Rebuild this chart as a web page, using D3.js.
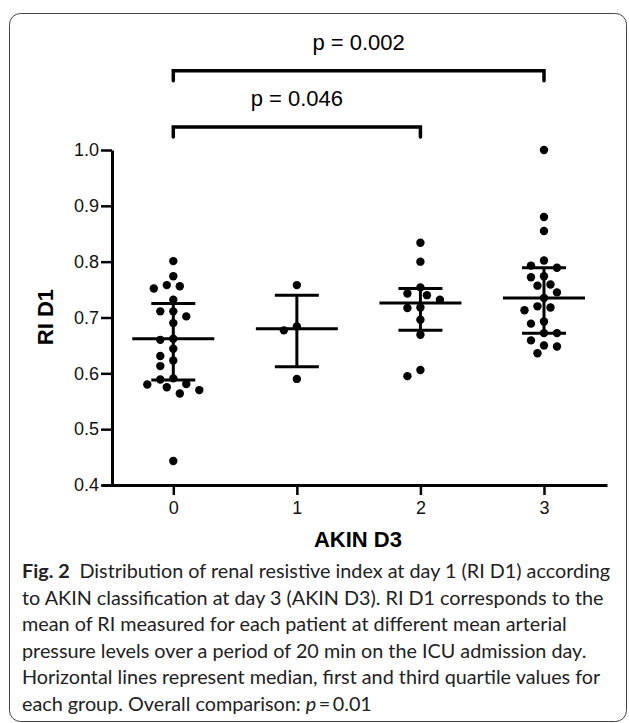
<!DOCTYPE html>
<html>
<head>
<meta charset="utf-8">
<script src="https://cdn.jsdelivr.net/npm/d3@7"></script>
<style>
  body { margin: 0; background: #fff; }
  svg { display: block; }
</style>
</head>
<body>
<svg id="chart" width="629" height="723"></svg>
<script>
// AKIN D3 groups and RI D1 values
var groups = [0, 1, 2, 3];
var riAkin0 = [0.801, 0.774, 0.756, 0.752, 0.758, 0.732, 0.711, 0.702, 0.711, 0.690, 0.660, 0.662,
               0.644, 0.631, 0.623, 0.613, 0.589, 0.591, 0.580, 0.570, 0.564, 0.575, 0.581, 0.443];
var riAkin1 = [0.758, 0.684, 0.677, 0.590];
var riAkin2 = [0.834, 0.800, 0.754, 0.740, 0.743, 0.732, 0.718, 0.717, 0.696, 0.669, 0.606, 0.595];
var riAkin3 = [1.000, 0.880, 0.855, 0.793, 0.802, 0.789, 0.774, 0.772, 0.759, 0.757, 0.745, 0.735,
               0.718, 0.720, 0.713, 0.693, 0.689, 0.672, 0.672, 0.659, 0.650, 0.648, 0.636];
var medians = [0.662, 0.680, 0.726, 0.735];
var q1 = [0.588, 0.612, 0.677, 0.672];
var q3 = [0.725, 0.740, 0.752, 0.789];
var yTicks = [0.4, 0.5, 0.6, 0.7, 0.8, 0.9, 1.0];
var compFrom = [0, 0];
var compTo = [3, 2];
var compLevel = [1.142, 1.041];
var compLabel = ["p = 0.002", "p = 0.046"];
var captionLines = [
    "to AKIN classification at day 3 (AKIN D3). RI D1 corresponds to the",
    "mean of RI measured for each patient at different mean arterial",
    "pressure levels over a period of 20 min on the ICU admission day.",
    "Horizontal lines represent median, first and third quartile values for"
];

var allGroups = [riAkin0, riAkin1, riAkin2, riAkin3];

var svg = d3.select("#chart");
var chartFont = "'Liberation Sans', Arial, sans-serif";
var capFont = "Lato, 'Open Sans', sans-serif";

// frame
svg.append("rect")
    .attr("x", 9.5).attr("y", 13.5)
    .attr("width", 617).attr("height", 708)
    .attr("rx", 11).attr("ry", 11)
    .attr("fill", "none")
    .attr("stroke", "#444")
    .attr("stroke-width", 1);

var xRange = d3.scaleLinear()
    .domain([-0.577, 3.51])
    .range([102, 607]);

var yRange = d3.scaleLinear()
    .domain([0.4, 1.0])
    .range([485, 150]);

// y axis
var yAxis = svg.append("g")
    .attr("transform", "translate(112, 0)")
    .call(d3.axisLeft(yRange).tickValues(yTicks).tickFormat(d3.format(".1f")).tickSize(11).tickSizeOuter(0).tickPadding(2));
yAxis.select(".domain").attr("stroke", "#000").attr("stroke-width", 3);
yAxis.selectAll(".tick line").attr("stroke", "#000").attr("stroke-width", 2.5);
yAxis.selectAll(".tick text")
    .style("font-family", chartFont).style("font-size", "18px").attr("fill", "#111");

// x axis
var xAxis = svg.append("g")
    .attr("transform", "translate(0, 485)")
    .call(d3.axisBottom(xRange).tickValues(groups).tickFormat(d3.format("d")).tickSize(10).tickSizeOuter(0).tickPadding(6));
xAxis.select(".domain").attr("stroke", "#000").attr("stroke-width", 3);
xAxis.selectAll(".tick line").attr("stroke", "#000").attr("stroke-width", 2.5);
xAxis.selectAll(".tick text")
    .style("font-family", chartFont).style("font-size", "18px").attr("fill", "#111");

// axis titles
svg.append("text")
    .attr("transform", "translate(53, 317) rotate(-90)")
    .attr("text-anchor", "middle")
    .style("font-family", chartFont).style("font-size", "22px").style("font-weight", "bold")
    .text("RI D1");

svg.append("text")
    .attr("x", 358).attr("y", 547)
    .attr("text-anchor", "middle")
    .style("font-family", chartFont).style("font-size", "22px").style("font-weight", "bold")
    .text("AKIN D3");

// simple beeswarm, offsets in half-dot steps
function swarm(values, g){
    var r = 4.2, step = 6.5, placed = [];
    var sorted = values.slice().sort(function(a, b){ return b - a; });
    sorted.forEach(function(v){
        var cy = yRange(v);
        for (var k = 0; k < 20; k++) {
            var off = (k % 2 == 0 ? 1 : -1) * Math.ceil(k / 2) * step;
            var cx = xRange(g) + off;
            var hit = placed.some(function(p){ return Math.hypot(p.cx - cx, p.cy - cy) < 2 * r + 1.5; });
            if (!hit) { placed.push({cx: cx, cy: cy, v: v}); break; }
        }
    });
    return placed;
}

var dots = [];
allGroups.forEach(function(vals, i){ dots = dots.concat(swarm(vals, groups[i])); });

// median / quartile bars
var bars = svg.append("g");
groups.forEach(function(g, i){
    var cx = xRange(g);
    bars.append("line")
        .attr("x1", cx).attr("x2", cx)
        .attr("y1", yRange(q1[i])).attr("y2", yRange(q3[i]))
        .attr("stroke", "#000").attr("stroke-width", 3);
    [q1[i], q3[i]].forEach(function(q){
        bars.append("line")
            .attr("x1", cx - 22).attr("x2", cx + 22)
            .attr("y1", yRange(q)).attr("y2", yRange(q))
            .attr("stroke", "#000").attr("stroke-width", 3);
    });
    bars.append("line")
        .attr("x1", cx - 41).attr("x2", cx + 41)
        .attr("y1", yRange(medians[i])).attr("y2", yRange(medians[i]))
        .attr("stroke", "#000").attr("stroke-width", 3);
});

svg.append("g")
    .selectAll("circle")
    .data(dots)
    .enter()
    .append("circle")
        .attr("cx", function(d){ return d.cx; })
        .attr("cy", function(d){ return d.cy; })
        .attr("r", 4.2)
        .attr("fill", "#000");

// comparison brackets
var comp = svg.append("g");
compLabel.forEach(function(lbl, i){
    var x1 = xRange(compFrom[i]), x2 = xRange(compTo[i]), yy = yRange(compLevel[i]);
    comp.append("path")
        .attr("d", "M" + x1 + "," + (yy + 10) + "V" + yy + "H" + x2 + "V" + (yy + 10))
        .attr("fill", "none")
        .attr("stroke", "#000").attr("stroke-width", 3.5)
        .attr("stroke-linecap", "round");
    comp.append("text")
        .attr("x", (x1 + x2) / 2).attr("y", yy - 21)
        .attr("text-anchor", "middle")
        .style("font-family", chartFont).style("font-size", "22px")
        .text(lbl);
});

// caption
var cap = svg.append("g")
    .style("font-family", capFont).style("font-size", "19.8px").attr("fill", "#222");
var t0 = cap.append("text").attr("x", 22).attr("y", 578);
t0.append("tspan").style("font-weight", "bold").text("Fig. 2");
t0.append("tspan").text("\u2002Distribution of renal resistive index at day 1 (RI D1) according");
captionLines.forEach(function(line, i){
    cap.append("text").attr("x", 22).attr("y", 578 + (i + 1) * 26.6).text(line);
});
var tl = cap.append("text").attr("x", 22).attr("y", 578 + 5 * 26.6);
tl.append("tspan").text("each group. Overall comparison: ");
tl.append("tspan").style("font-style", "italic").text("p");
tl.append("tspan").text("\u2009=\u20090.01");
</script>
</body>
</html>
